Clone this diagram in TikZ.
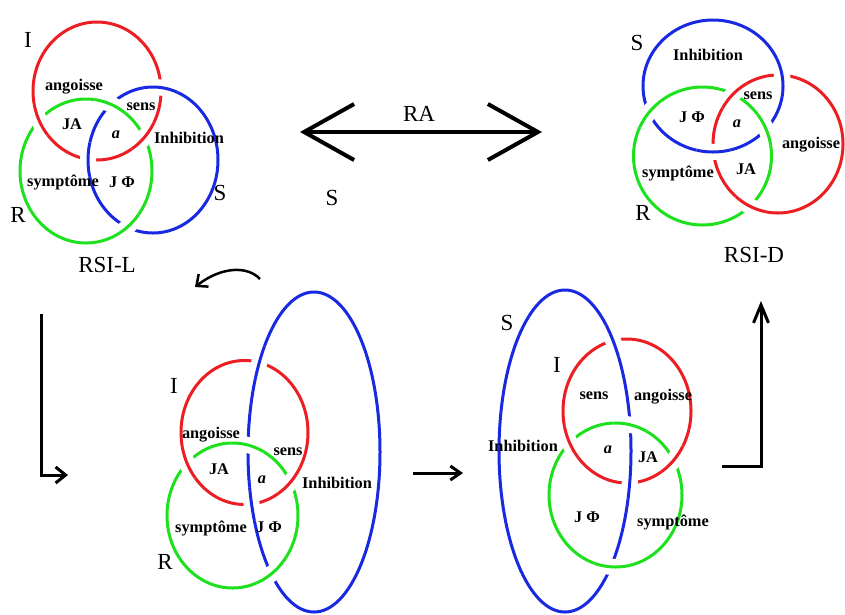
\documentclass[tikz,border=0pt]{standalone}
\usepackage{fontspec}
\setmainfont{Liberation Serif}
\usetikzlibrary{intersections,arrows.meta}
\definecolor{kred}{RGB}{236,30,36}
\definecolor{kgreen}{RGB}{30,225,30}
\definecolor{kblue}{RGB}{25,40,225}
\newcommand\knotring[5]{\draw[ring,#5,name path=#1] (#2) ellipse (#3 and #4);}
\newcommand\knotover[6]{%
  \path[name intersections={of=#1 and #2, by={#1#2a,#1#2b}}];
  \foreach \p in {#1#2a,#1#2b}{%
    \begin{scope}
      \clip (\p) circle (17);
      \draw[white,line width=16pt] (#3) ellipse (#4 and #5);
      \draw[ring,#6] (#3) ellipse (#4 and #5);
    \end{scope}}}
\begin{document}
\begin{tikzpicture}[x=1pt,y=-1pt,
  ring/.style={line width=3pt},
  lab/.style={font=\bfseries\fontsize{16.3}{16}\selectfont,inner sep=0pt},
  laba/.style={font=\bfseries\itshape\fontsize{16.3}{16}\selectfont,inner sep=0pt},
  big/.style={font=\fontsize{23}{23}\selectfont,inner sep=0pt},
  arr/.style={line width=3pt}]
\useasboundingbox[fill=white] (0,0) rectangle (845,614);

% ---------- RSI-L ----------
\knotring{AI}{97,91}{64}{69}{kred}
\knotring{AR}{86,171}{66}{72}{kgreen}
\knotring{AS}{153,160}{65}{73}{kblue}
\knotover{AS}{AI}{153,160}{65}{73}{kblue}
\knotover{AI}{AR}{97,91}{64}{69}{kred}
\knotover{AR}{AS}{86,171}{66}{72}{kgreen}

% ---------- RSI-D ----------
\knotring{DS}{713,86}{70}{66}{kblue}
\knotring{DR}{702.5,156}{69}{69}{kgreen}
\knotring{DI}{778,144}{65}{69}{kred}
\knotover{DS}{DI}{713,86}{70}{66}{kblue}
\knotover{DI}{DR}{778,144}{65}{69}{kred}
\knotover{DR}{DS}{702.5,156}{69}{69}{kgreen}

% ---------- bottom left ----------
\knotring{BI}{244.5,432.5}{63.5}{72}{kred}
\knotring{BR}{232.5,515.5}{65.5}{72.5}{kgreen}
\knotring{BS}{314,452}{66}{160}{kblue}
\knotover{BS}{BI}{314,452}{66}{160}{kblue}
\knotover{BI}{BR}{244.5,432.5}{63.5}{72}{kred}
\knotover{BR}{BS}{232.5,515.5}{65.5}{72.5}{kgreen}

% ---------- bottom right ----------
\knotring{CS}{565,451}{66}{161}{kblue}
\knotring{CI}{627,411}{64}{72}{kred}
\knotring{CR}{615.5,495}{66.5}{72}{kgreen}
\knotover{CS}{CI}{565,451}{66}{161}{kblue}
\knotover{CI}{CR}{627,411}{64}{72}{kred}
\knotover{CR}{CS}{615.5,495}{66.5}{72}{kgreen}

% ---------- labels RSI-L ----------
\node[big] (A-I) at (28,40) {I};
\node[lab] (A-ang) at (74,87) {angoisse};
\node[lab] (A-sens) at (141,107) {sens};
\node[lab] (A-JA) at (72,124) {JA};
\node[laba] (A-a) at (116,135) {a};
\node[lab] (A-inh) at (189,138) {Inhibition};
\node[lab] (A-sym) at (63,183) {symptôme};
\node[lab] (A-JP) at (122,182) {J Φ};
\node[big] (A-S) at (220,193) {S};
\node[big] (A-R) at (18,215) {R};
\node[big] (A-name) at (107,265) {RSI-L};

% ---------- middle top ----------
\node[big] (RA) at (419,114) {RA};
\node[big] (M-S) at (332,198) {S};

% ---------- labels RSI-D ----------
\node[big] (D-S) at (637,43) {S};
\node[lab] (D-inh) at (708,55) {Inhibition};
\node[lab] (D-sens) at (758,96) {sens};
\node[lab] (D-JP) at (692,117) {J Φ};
\node[laba] (D-a) at (737,124) {a};
\node[lab] (D-ang) at (811,145) {angoisse};
\node[lab] (D-JA) at (746,169) {JA};
\node[lab] (D-sym) at (678,174) {symptôme};
\node[big] (D-R) at (643,213) {R};
\node[big] (D-name) at (754,255) {RSI-D};

% ---------- labels bottom left ----------
\node[big] (B-I) at (174,386) {I};
\node[lab] (B-ang) at (211,435) {angoisse};
\node[lab] (B-sens) at (288,452) {sens};
\node[lab] (B-JA) at (219,469) {JA};
\node[laba] (B-a) at (262,480) {a};
\node[lab] (B-inh) at (337,483) {Inhibition};
\node[lab] (B-sym) at (211,528) {symptôme};
\node[lab] (B-JP) at (269,527) {J Φ};
\node[big] (B-R) at (165,562) {R};

% ---------- labels bottom right ----------
\node[big] (C-S) at (507,323) {S};
\node[big] (C-I) at (557,365) {I};
\node[lab] (C-sens) at (594,396) {sens};
\node[lab] (C-ang) at (663,397) {angoisse};
\node[lab] (C-inh) at (523,446) {Inhibition};
\node[laba] (C-a) at (608,450) {a};
\node[lab] (C-JA) at (648,457) {JA};
\node[lab] (C-JP) at (587,517) {J Φ};
\node[lab] (C-sym) at (673,523) {symptôme};

% ---------- arrows ----------
\coordinate (raL) at (300,132);
\coordinate (raR) at (542,132);
\draw[line width=4pt,{Straight Barb[length=50pt,width=56pt]}-{Straight Barb[length=50pt,width=56pt]}] (raL) -- (raR);

\coordinate (cvS) at (260,279);
\coordinate (cvE) at (195,287);
\draw[line width=2.5pt,-{Straight Barb[length=9pt,width=16pt]}] (cvS) .. controls (248,266) and (222,266) .. (cvE);

\coordinate (lA) at (41,314);
\coordinate (lC) at (68,475);
\draw[arr,-{Straight Barb[length=10pt,width=16pt]}] (lA) |- (lC);

\coordinate (mA) at (413,473);
\coordinate (mB) at (463,473);
\draw[arr,-{Straight Barb[length=10pt,width=14pt]}] (mA) -- (mB);

\coordinate (rA) at (722,466);
\coordinate (rB) at (761,301);
\draw[arr,-{Straight Barb[length=18pt,width=15pt]}] (rA) -| (rB);
\end{tikzpicture}
\end{document}
